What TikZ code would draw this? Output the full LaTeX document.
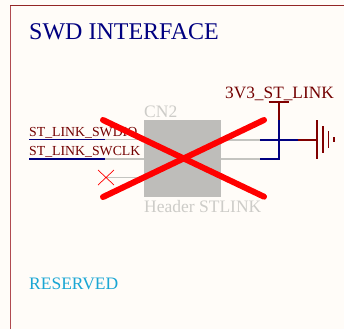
\documentclass[tikz,border=0pt]{standalone}
\usepackage{fontspec}
\setmainfont{Liberation Serif}
\definecolor{paper}{HTML}{FFFCF8}
\definecolor{maroon}{HTML}{800000}
\definecolor{frameline}{HTML}{B04A50}
\definecolor{navy}{HTML}{000080}
\definecolor{wire}{HTML}{C4C4C0}
\definecolor{boxgray}{HTML}{BEBDBA}
\definecolor{ghost}{HTML}{CDCCC8}
\definecolor{cyantext}{HTML}{1AA6D4}
\tikzset{
  x=1pt,y=-1pt,
  txt/.style={inner sep=0pt,anchor=base west,font=\fontsize{#1}{#1}\selectfont},
  netlabel/.style={txt=#1,text=maroon!90!black},
  ghostlabel/.style={txt=17.5,text=ghost},
  navywire/.style={draw=navy,line width=1.9pt},
  greywire/.style={draw=wire,line width=1.9pt},
  redwire/.style={draw=maroon,line width=1.6pt},
  crossout/.style={draw=red,line width=6pt,line cap=round},
}
\begin{document}
\begin{tikzpicture}
\useasboundingbox (0,0) rectangle (344,329);
\fill[paper] (0,0) rectangle (344,329);
% sheet frame
\draw[frameline,line width=1.2pt] (10.5,329) -- (10.5,5.5);
\draw[maroon!85!white,line width=1.2pt] (10,5.5) -- (344,5.5);
% texts
\node[txt=24,text=navy] (title) at (29,39) {SWD INTERFACE};
\node[txt=17.5,text=cyantext] (reserved) at (29,289) {RESERVED};
% connector body
\node[draw=none,fill=boxgray,minimum width=77pt,minimum height=77pt,inner sep=0pt,anchor=north west] (cn) at (144,120) {};
\node[ghostlabel] (cnname) at (144,117) {CN2};
\node[ghostlabel] (cnval) at (144,212) {Header STLINK};
% coordinates
\coordinate (l1a) at (29,139.5);  \coordinate (l1b) at (105,139.5); \coordinate (l1c) at (144,139.5);
\coordinate (l2a) at (29,158.7);  \coordinate (l2b) at (105,158.7); \coordinate (l2c) at (144,158.7);
\coordinate (l3b) at (106,177.5); \coordinate (l3c) at (144,177.5);
\coordinate (r1a) at (221,139.7); \coordinate (r1b) at (260,139.7); \coordinate (r1j) at (278.7,139.7); \coordinate (r1c) at (298,139.7); \coordinate (gnd) at (317,139.7);
\coordinate (r2a) at (221,158.7); \coordinate (r2b) at (260,158.7); \coordinate (r2j) at (278.7,158.7);
\coordinate (pwr) at (278.7,101.7); \coordinate (pwrm) at (278.7,120);
% wires
\draw[greywire] (l1b) -- (l1c);
\draw[greywire] (l2b) -- (l2c);
\draw[greywire] (l3b) -- (l3c);
\draw[greywire] (r1a) -- (r1b);
\draw[greywire] (r2a) -- (r2b);
\draw[navywire] (l1a) -- (l1b);
\draw[navywire] (l2a) -- (l2b);
\draw[navywire] (r1b) -- (r1c);
\draw[navywire,line join=miter] (r2b) -- (r2j) -- (pwrm);
\draw[redwire] (r1c) -- (gnd);
\draw[redwire] (pwrm) -- (pwr);
\draw[redwire] (268.7,101.7) -- (288.7,101.7);
\fill[navy] (r1j) circle (1.6pt);
% ground symbol
\draw[redwire] (317,120) -- (317,159);
\draw[redwire] (322.7,126) -- (322.7,153);
\draw[redwire] (328.5,131) -- (328.5,148);
\draw[redwire] (334,137) -- (334,142);
% net labels
\node[netlabel=13.8] (swdio) at (29,136.5) {ST\_LINK\_SWDIO};
\node[netlabel=13.8] (swclk) at (29,155.5) {ST\_LINK\_SWCLK};
\node[netlabel=17.3] (vdd) at (225,98) {3V3\_ST\_LINK};
% no-connect
\draw[red,line width=.7pt] (98,170) -- (114,185) (98,185) -- (114,170);
% cross out
\coordinate (xa) at (103,120); \coordinate (xb) at (264,196.7);
\coordinate (xc) at (103,197); \coordinate (xd) at (264,120);
\draw[crossout] (xa) -- (xb);
\draw[crossout] (xc) -- (xd);
\end{tikzpicture}
\end{document}
